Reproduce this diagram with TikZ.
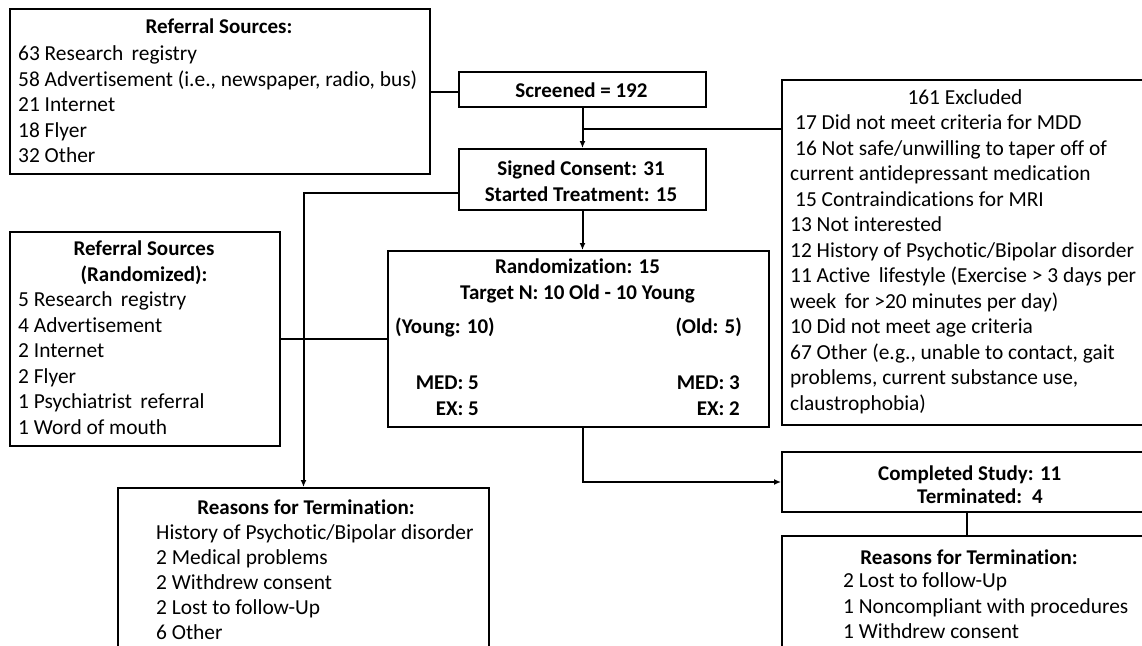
\documentclass[tikz,border=0pt]{standalone}
\usepackage{fontspec}
\setmainfont{Carlito}[Ligatures={NoCommon}]
\usetikzlibrary{arrows.meta,calc}
\tikzset{
  box/.style={draw=black, line width=2pt, rectangle, anchor=north west, inner sep=0pt},
  txt/.style={inner sep=0pt, font=\fontsize{21.4}{25.5}\selectfont, align=left, anchor=north west},
  btxt/.style={inner sep=0pt, font=\fontsize{21}{25.5}\selectfont\bfseries, align=center, anchor=north},
  conn/.style={line width=2pt},
  arr/.style={line width=2pt, -{Latex[length=7pt,width=6pt]}}
}
\begin{document}
\begin{tikzpicture}[x=1pt,y=-1pt]
\useasboundingbox (0,0) rectangle (1142,645);
% boxes
\node[box, minimum width=420pt, minimum height=165pt] (ref) at (9,8) {};
\node[box, minimum width=247pt, minimum height=35pt] (scr) at (458,71) {};
\node[box, minimum width=247pt, minimum height=61pt] (cons) at (458,148) {};
\node[box, minimum width=400pt, minimum height=345pt] (excl) at (781,79) {};
\node[box, minimum width=270pt, minimum height=214pt] (refr) at (9,231) {};
\node[box, minimum width=381pt, minimum height=176pt] (rand) at (387,250) {};
\node[box, minimum width=400pt, minimum height=60pt] (comp) at (781,451) {};
\node[box, minimum width=371pt, minimum height=200pt] (terml) at (117,487) {};
\node[box, minimum width=400pt, minimum height=200pt] (termr) at (781,535) {};
% texts
\node[btxt] (refT) at (219,19) {Referral Sources:};
\node[txt] (refL) at (18,45.5) {63 Research\, registry\\58 Advertisement (i.e., newspaper, radio, bus)\\21 Internet\\18 Flyer\\32 Other};
\node[btxt] (scrT) at (581.5,83) {Screened = 192};
\node[btxt] (consT) at (581,161) {Signed Consent: 31\\Started Treatment: 15};
\node[txt, align=center, anchor=north] (exT) at (965,89.5) {161 Excluded};
\node[txt] (exL) at (790,114.5) {\hspace{5pt}17 Did not meet criteria for MDD\\\hspace{5pt}16 Not safe/unwilling to taper off of\\current antidepressant medication\\\hspace{5pt}15 Contraindications for MRI\\13 Not interested\\12 History of Psychotic/Bipolar disorder\\11 Active\, lifestyle (Exercise {>} 3 days per\\week\, for {>}20 minutes per day)\\10 Did not meet age criteria\\67 Other (e.g., unable to contact, gait\\problems, current substance use,\\claustrophobia)};
\node[btxt] (refrT) at (144,241) {Referral Sources\\(Randomized):};
\node[txt] (refrL) at (18,291.5) {5 Research\, registry\\4 Advertisement\\2 Internet\\2 Flyer\\1 Psychiatrist\, referral\\1 Word of mouth};
\node[btxt] (randT) at (577.5,259) {Randomization: 15\\Target N: 10 Old - 10 Young};
\node[btxt, anchor=north west] (young) at (395,318) {(Young: 10)};
\node[btxt, anchor=north east] (old) at (742,318) {(Old: 5)};
\node[btxt, align=right, anchor=north east] (ymed) at (479,376) {MED: 5\\EX: 5};
\node[btxt, align=right, anchor=north east] (omed) at (740,376) {MED: 3\\EX: 2};
\node[btxt, anchor=north west] (compT) at (878,466) {Completed Study: 11};
\node[btxt, anchor=north west] (termT) at (917,489) {Terminated:\, 4};
\node[btxt] (tlT) at (306,500) {Reasons for Termination:};
\node[txt, font=\fontsize{21.4}{25}\selectfont] (tlL) at (156,524.5) {History of Psychotic/Bipolar disorder\\2 Medical problems\\2 Withdrew consent\\2 Lost to follow-Up\\6 Other};
\node[btxt] (trT) at (969,550) {Reasons for Termination:};
\node[txt] (trL) at (843,572.5) {2 Lost to follow-Up\\1 Noncompliant with procedures\\1 Withdrew consent};
% connectors
\draw[conn] (ref.east) -- (ref.east -| scr.west);
\draw[arr] (scr.south) -- (cons.north);
\coordinate (j1) at ($(scr.south)+(0,21)$);
\draw[conn] (j1) -- (j1 -| excl.west);
\coordinate (c1) at ($(cons.south west)+(0,-18)$);
\draw[arr] (c1) -| (terml.north);
\draw[arr] (cons.south) -- (cons.south |- rand.north);
\draw[conn] (refr.east) -- (rand.west);
\coordinate (r1) at ($(rand.south)+(4,0)$);
\draw[arr] (r1) |- (comp.west);
\coordinate (k1) at ($(comp.south west)+(186,0)$);
\draw[conn] (k1) -- (k1 |- termr.north);
\end{tikzpicture}
\end{document}
